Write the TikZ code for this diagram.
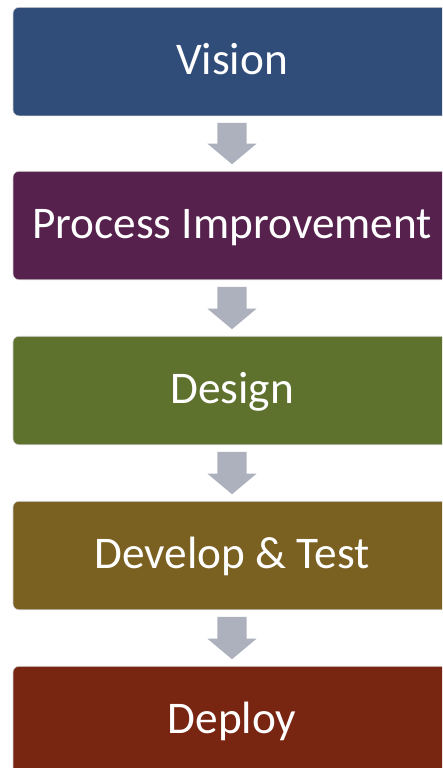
\documentclass[tikz,border=0pt]{standalone}
\usepackage{fontspec}
\setmainfont{Carlito}
\usetikzlibrary{calc}
\definecolor{cA}{HTML}{304D7A}
\definecolor{cB}{HTML}{56214D}
\definecolor{cC}{HTML}{5E712D}
\definecolor{cD}{HTML}{7A6021}
\definecolor{cE}{HTML}{782612}
\definecolor{arr}{HTML}{ADB1BD}
\tikzset{
  stepbox/.style={draw=gray!35, line width=0.6pt, rounded corners=6pt, minimum width=438pt, minimum height=108.5pt, inner sep=0pt, text=white, font=\fontsize{45.3}{50}\selectfont, text height=29pt, text depth=3pt},
  downarrow/.style={fill=arr, draw=none}
}
\begin{document}
\begin{tikzpicture}[x=1pt,y=-1pt]
\useasboundingbox (0,0) rectangle (442,768);
\clip (0,0) rectangle (442,768);
\node[stepbox, fill=cA] (b1) at (232,61.6) {Vision};
\node[stepbox, fill=cB] (b2) at (232,225.5) {Process Improvement};
\node[stepbox, fill=cC] (b3) at (232,390.5) {Design};
\node[stepbox, fill=cD] (b4) at (232,555.5) {Develop \& Test};
\node[stepbox, fill=cE] (b5) at (232,720.5) {Deploy};
\foreach \a/\b in {b1/b2,b2/b3,b3/b4,b4/b5}{
  \coordinate (t) at ($(\a.south)+(0,6.7)$);
  \coordinate (p) at ($(\b.north)+(0,-6.7)$);
  \fill[downarrow] ($(t)+(-14.7,0)$) -- ($(t)+(14.7,0)$) -- ($(p)+(14.7,-20.7)$) -- ($(p)+(24.7,-20.7)$) -- (p) -- ($(p)+(-24.7,-20.7)$) -- ($(p)+(-14.7,-20.7)$) -- cycle;
}
\end{tikzpicture}
\end{document}
